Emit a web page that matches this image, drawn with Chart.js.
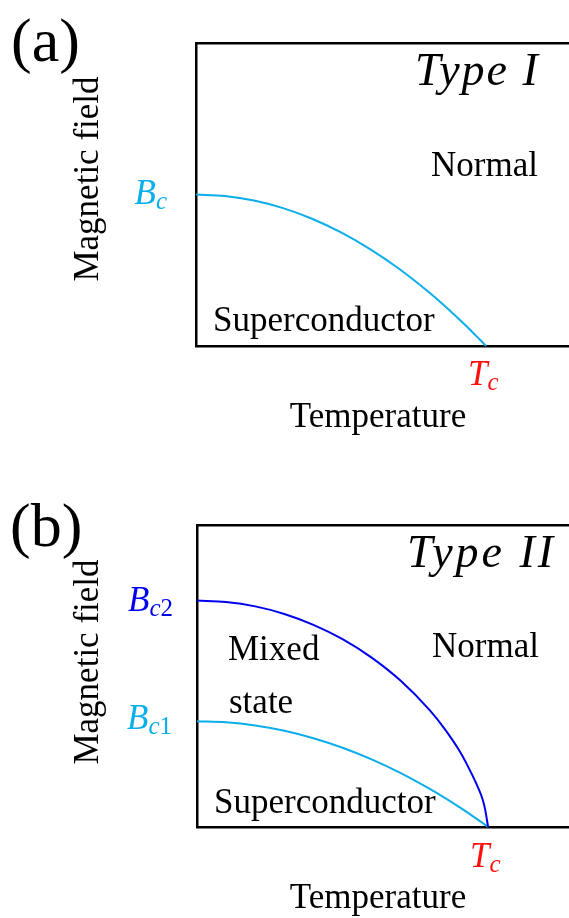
<!DOCTYPE html>
<html>
<head>
<meta charset="utf-8">
<script src="https://cdn.jsdelivr.net/npm/chart.js@4/dist/chart.umd.min.js"></script>
<style>
  html, body { margin: 0; padding: 0; background: #fff; overflow: hidden; width: 569px; height: 918px; }
  canvas { display: block; }
</style>
</head>
<body>
<canvas id="typeI" width="569" height="459"></canvas>
<canvas id="typeII" width="569" height="459"></canvas>
<script>
// Reduced temperature T/Tc at which the phase boundaries are sampled
const temperature = [0, 0.1, 0.2, 0.3, 0.4, 0.5, 0.6, 0.7, 0.8, 0.85, 0.9, 0.93, 0.96, 0.98, 0.99, 1];
// Type I: critical field Bc(T)
const fieldBc  = [1.000, 0.990, 0.960, 0.910, 0.840, 0.750, 0.640, 0.510, 0.360, 0.278, 0.190, 0.135, 0.078, 0.040, 0.020, 0];
// Type II: upper critical field Bc2(T)
const fieldBc2 = [1.500, 1.490, 1.461, 1.411, 1.339, 1.244, 1.122, 0.968, 0.772, 0.652, 0.510, 0.405, 0.285, 0.190, 0.115, 0];
// Type II: lower critical field Bc1(T)
const fieldBc1 = [0.700, 0.693, 0.672, 0.637, 0.588, 0.525, 0.448, 0.357, 0.252, 0.194, 0.133, 0.095, 0.055, 0.028, 0.014, 0];
// Critical temperature on the T axis
const tc = 1;

const SERIF = '"Liberation Serif", "Times New Roman", serif';
const CYAN = '#0AAEEA';
const BLUE = '#0000F0';
const RED = '#FF1010';

const points = (ys) => temperature.map((t, i) => ({ x: t, y: ys[i] }));

function text(ctx, s, x, y, font, opts = {}) {
  ctx.save();
  ctx.font = font;
  ctx.fillStyle = opts.color || '#000';
  ctx.textAlign = opts.align || 'left';
  ctx.textBaseline = 'alphabetic';
  if (opts.spacing) ctx.letterSpacing = opts.spacing;
  ctx.fillText(s, x, y);
  ctx.restore();
}

// Italic symbol with a subscript, e.g. B_c or B_{c2}
function symbol(ctx, main, subs, x, y, color, alignRight) {
  ctx.save();
  const mainFont = 'italic 35px ' + SERIF;
  const subFont = (it) => (it ? 'italic ' : '') + '25px ' + SERIF;
  ctx.font = mainFont;
  let w = ctx.measureText(main).width;
  subs.forEach(([s, it]) => { ctx.font = subFont(it); w += ctx.measureText(s).width; });
  let cx = alignRight ? x - w : x;
  ctx.fillStyle = color;
  ctx.textBaseline = 'alphabetic';
  ctx.textAlign = 'left';
  ctx.font = mainFont;
  ctx.fillText(main, cx, y);
  cx += ctx.measureText(main).width;
  subs.forEach(([s, it]) => {
    ctx.font = subFont(it);
    ctx.fillText(s, cx, y + 5);
    cx += ctx.measureText(s).width;
  });
  ctx.restore();
}

function verticalTitle(ctx, s, xBaseline, yCenter) {
  ctx.save();
  ctx.translate(xBaseline, yCenter);
  ctx.rotate(-Math.PI / 2);
  ctx.font = '35px ' + SERIF;
  ctx.fillStyle = '#000';
  ctx.textAlign = 'center';
  ctx.textBaseline = 'alphabetic';
  ctx.fillText(s, 0, 0);
  ctx.restore();
}

const frame = { display: true, color: '#000', width: 2.5 };
function axes(xMax) {
  const hidden = () => ({
    grid: { display: false, drawTicks: false, tickLength: 0 },
    ticks: { display: false, padding: 0 },
    border: frame,
    afterFit: (s) => { if (s.isHorizontal()) s.height = 0; else s.width = 0; }
  });
  return {
    x:    Object.assign({ type: 'linear', position: 'bottom', min: 0, max: xMax }, hidden()),
    xTop: Object.assign({ type: 'linear', position: 'top', min: 0, max: xMax }, hidden()),
    y:    Object.assign({ type: 'linear', position: 'left', min: 0, max: 2 }, hidden())
  };
}

function curve(ys, color) {
  return {
    data: points(ys),
    borderColor: color,
    borderWidth: 2,
    pointRadius: 0,
    fill: false,
    cubicInterpolationMode: 'monotone',
    clip: 3
  };
}

function panel(id, xMax, padding, datasets, decorate) {
  return new Chart(document.getElementById(id), {
    type: 'line',
    data: { datasets },
    options: {
      responsive: false,
      animation: false,
      devicePixelRatio: 1,
      layout: { padding },
      plugins: { legend: { display: false }, tooltip: { enabled: false } },
      scales: axes(xMax)
    },
    plugins: [{ id: 'annotations', afterDraw: (chart) => decorate(chart, chart.ctx) }]
  });
}

// (a) Type I superconductor
panel('typeI', 1.286, { left: 196, top: 43, bottom: 113, right: 0 },
  [curve(fieldBc, CYAN)],
  (chart, ctx) => {
    const { x, y } = chart.scales;
    const area = chart.chartArea;
    text(ctx, '(a)', 11, 61, '62px ' + SERIF);
    text(ctx, 'Type I', 415, 85, 'italic 46px ' + SERIF, { spacing: '2px' });
    text(ctx, 'Normal', 431, 176, '35px ' + SERIF);
    text(ctx, 'Superconductor', 213, 331, '35px ' + SERIF);
    verticalTitle(ctx, 'Magnetic field', 98, 179);
    text(ctx, 'Temperature', 378, area.bottom + 81, '35px ' + SERIF, { align: 'center' });
    symbol(ctx, 'T', [['c', true]], x.getPixelForValue(tc) - 18, area.bottom + 39, RED, false);
    symbol(ctx, 'B', [['c', true]], area.left - 29, y.getPixelForValue(fieldBc[0]) + 9, CYAN, true);
  });

// (b) Type II superconductor
panel('typeII', 1.278, { left: 197, top: 66, bottom: 91, right: 0 },
  [curve(fieldBc2, BLUE), curve(fieldBc1, CYAN)],
  (chart, ctx) => {
    const { x, y } = chart.scales;
    const area = chart.chartArea;
    text(ctx, '(b)', 10, 87, '62px ' + SERIF);
    text(ctx, 'Type II', 407, 108, 'italic 46px ' + SERIF, { spacing: '3px' });
    text(ctx, 'Normal', 432, 198, '35px ' + SERIF);
    text(ctx, 'Mixed', 228, 201, '35px ' + SERIF);
    text(ctx, 'state', 229, 254, '35px ' + SERIF);
    text(ctx, 'Superconductor', 214, 354, '35px ' + SERIF);
    verticalTitle(ctx, 'Magnetic field', 98, 203);
    text(ctx, 'Temperature', 378, area.bottom + 81, '35px ' + SERIF, { align: 'center' });
    symbol(ctx, 'T', [['c', true]], x.getPixelForValue(tc) - 18, area.bottom + 40, RED, false);
    symbol(ctx, 'B', [['c', true], ['2', false]], area.left - 24, y.getPixelForValue(fieldBc2[0]) + 10, BLUE, true);
    symbol(ctx, 'B', [['c', true], ['1', false]], area.left - 25, y.getPixelForValue(fieldBc1[0]) + 8, CYAN, true);
  });
</script>
</body>
</html>
